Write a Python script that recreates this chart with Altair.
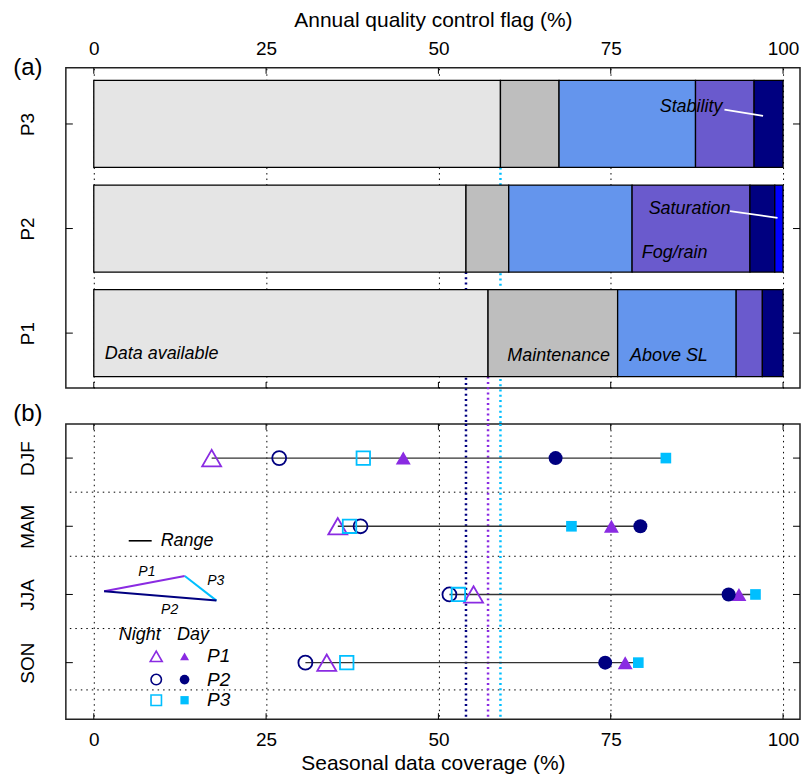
import altair as alt
import pandas as pd

# ---------------- data ----------------
sites = ["P1", "P2", "P3"]
site_pos = [1, 2, 3]
site_colors = ["#8A2BE2", "#000080", "#00BFFF"]
site_avail = [57.2, 54.0, 59.0]

flag_names = ["Data available", "Maintenance", "Above SL", "Fog/rain", "Stability", "Saturation"]
flag_colors = ["#E5E5E5", "#BEBEBE", "#6495ED", "#6A5ACD", "#000080", "#0000FF"]
flags_p1 = [57.2, 18.8, 17.2, 3.8, 3.0, 0.0]
flags_p2 = [54.0, 6.2, 17.9, 17.1, 3.6, 1.2]
flags_p3 = [59.0, 8.5, 19.8, 8.5, 4.2, 0.0]

label_text = ["Data available", "Maintenance", "Above SL", "Fog/rain", "Saturation", "Stability"]
label_x = [1.6, 60.0, 77.8, 79.5, 80.5, 82.1]
label_y = [0.80, 0.78, 0.78, 1.77, 2.19, 3.16]

leader_x = [92.3, 91.5]
leader_x2 = [99.2, 97.1]
leader_y = [2.167, 3.137]
leader_y2 = [2.103, 3.077]

seasons = ["DJF", "MAM", "JJA", "SON"]
season_pos = [4, 3, 2, 1]
night_p1 = [17.1, 35.4, 55.1, 33.8]
night_p2 = [26.9, 38.7, 51.6, 30.7]
night_p3 = [39.1, 37.1, 52.9, 36.7]
day_p1 = [44.9, 75.1, 93.6, 77.1]
day_p2 = [67.0, 79.3, 92.1, 74.2]
day_p3 = [83.0, 69.3, 96.0, 79.0]

x_ticks = [0, 25, 50, 75, 100]
season_sep = [3.5, 2.56, 1.5, 0.6]

# legend (panel b) items
range_leg_x, range_leg_x2, range_leg_y, range_txt_x = 5.07, 8.4, 2.787, 9.7
tri_site = ["P1", "P3", "P2"]
tri_x = [1.5, 13.2, 1.5]
tri_x2 = [13.2, 17.8, 17.8]
tri_y = [2.047, 2.271, 2.047]
tri_y2 = [2.271, 1.910, 1.910]
tri_lab_x = [7.7, 17.7, 11.0]
tri_lab_y = [2.324, 2.203, 1.775]
leg_head = ["Night", "Day"]
leg_head_x = [6.66, 14.4]
leg_head_y = [1.399, 1.399]
leg_row_y = [1.092, 0.752, 0.449]
leg_night_x, leg_day_x, leg_text_x = 9.06, 13.17, 16.44

shapes = ["triangle-up", "circle", "square"]
night_sizes = [361, 196, 182]
day_sizes = [225, 196, 114]
leg_night_sizes = [144, 110, 110]
leg_day_sizes = [81, 94, 69]

# ---------------- layout constants ----------------
FONT = "Liberation Sans"
W = 736
HA = 321
HB = 296
GAP = 36
xscale = alt.Scale(domain=[-4.052, 102.46], nice=False, zero=False)
ya_scale = alt.Scale(domain=[0.475, 3.537], nice=False, zero=False)
yb_scale = alt.Scale(domain=[0.171, 4.501], nice=False, zero=False)
HALF = 0.416


def label_expr(pos, names):
    parts = " : ".join(f"datum.value == {p} ? '{n}'" for p, n in zip(pos, names))
    return parts + " : ''"


common_axis = dict(labelFont=FONT, titleFont=FONT, labelColor="black", titleColor="black",
                   titleFontWeight="normal", domain=False, ticks=False, tickSize=0)

AXA = alt.Axis(orient="top", values=x_ticks, title="Annual quality control flag (%)",
               labelFontSize=19, titleFontSize=21, labelPadding=9, titlePadding=9,
               grid=True, gridDash=[1.5, 4], gridColor="black", gridWidth=1, **common_axis)
AYA = alt.Axis(values=site_pos, labelExpr=label_expr(site_pos, sites), labelAngle=270,
               labelAlign="center", labelBaseline="bottom", labelFontSize=19, labelPadding=28,
               title=None, grid=False, **common_axis)
AXB = alt.Axis(orient="bottom", values=x_ticks, title="Seasonal data coverage (%)",
               labelFontSize=19, titleFontSize=21, labelPadding=11, titlePadding=3,
               grid=True, gridDash=[1.5, 4], gridColor="black", gridWidth=1, **common_axis)
AYB = alt.Axis(values=season_pos, labelExpr=label_expr(season_pos, seasons), labelAngle=270,
               labelAlign="center", labelBaseline="bottom", labelFontSize=19, labelPadding=28,
               title=None, grid=False, **common_axis)


def XA(f):
    return alt.X(f, scale=xscale, axis=AXA)


def YA(f):
    return alt.Y(f, scale=ya_scale, axis=AYA)


def XB(f):
    return alt.X(f, scale=xscale, axis=AXB)


def YB(f):
    return alt.Y(f, scale=yb_scale, axis=AYB)


site_color_scale = alt.Scale(domain=sites, range=site_colors)

# ---------------- panel (a) ----------------
rows = []
for s, p, vals in zip(sites, site_pos, [flags_p1, flags_p2, flags_p3]):
    cum = 0.0
    for name, v in zip(flag_names, vals):
        if v > 0:
            rows.append(dict(site=s, pos=p, flag=name, start=cum, end=cum + v))
        cum += v
df_bars = pd.DataFrame(rows)
df_sites = pd.DataFrame(dict(site=sites, pos=site_pos, avail=site_avail))
df_xt = pd.DataFrame(dict(v=x_ticks))

a_vlines = alt.Chart(df_sites).mark_rule(strokeWidth=2.5, strokeDash=[2, 3.3]).transform_calculate(
    lo=f"datum.pos - {HALF}").encode(
    x=XA("avail:Q"), y=YA("lo:Q"), y2=alt.value(HA + GAP),
    color=alt.Color("site:N", scale=site_color_scale, legend=None))

a_bars = alt.Chart(df_bars).mark_rect(stroke="black", strokeWidth=1.3).transform_calculate(
    lo=f"datum.pos - {HALF}", hi=f"datum.pos + {HALF}").encode(
    x=XA("start:Q"), x2="end:Q", y=YA("lo:Q"), y2="hi:Q",
    fill=alt.Fill("flag:N", scale=alt.Scale(domain=flag_names, range=flag_colors), legend=None))

df_lead = pd.DataFrame(dict(x=leader_x, x2=leader_x2, y=leader_y, y2=leader_y2))
a_lead = alt.Chart(df_lead).mark_rule(color="white", strokeWidth=1.8).encode(
    x=XA("x:Q"), x2="x2:Q", y=YA("y:Q"), y2="y2:Q")

df_lab = pd.DataFrame(dict(t=label_text, x=label_x, y=label_y))
a_text = alt.Chart(df_lab).mark_text(align="left", baseline="middle", font=FONT, fontSize=18,
                                     fontStyle="italic", color="black").encode(
    x=XA("x:Q"), y=YA("y:Q"), text="t:N")

a_tick_top = alt.Chart(df_xt).mark_rule(color="black", strokeWidth=1).encode(
    x=XA("v:Q"), y=alt.value(0), y2=alt.value(6))
a_tick_bot = alt.Chart(df_xt).mark_rule(color="black", strokeWidth=1).encode(
    x=XA("v:Q"), y=alt.value(HA - 6), y2=alt.value(HA))
df_ya = pd.DataFrame(dict(v=site_pos))
a_tick_l = alt.Chart(df_ya).mark_rule(color="black", strokeWidth=1).encode(
    y=YA("v:Q"), x=alt.value(0), x2=alt.value(7))
a_tick_r = alt.Chart(df_ya).mark_rule(color="black", strokeWidth=1).encode(
    y=YA("v:Q"), x=alt.value(W - 7), x2=alt.value(W))

a_lab_a = alt.Chart(df_xt.head(1)).mark_text(text="(a)", font=FONT, fontSize=24, align="center",
                                             baseline="middle", color="black").encode(
    x=alt.value(-38), y=alt.value(0))
a_lab_b = alt.Chart(df_xt.head(1)).mark_text(text="(b)", font=FONT, fontSize=24, align="center",
                                             baseline="middle", color="black").encode(
    x=alt.value(-38), y=alt.value(HA + 26))

panel_a = alt.layer(a_vlines, a_bars, a_lead, a_text, a_tick_top, a_tick_bot, a_tick_l, a_tick_r,
                    a_lab_a, a_lab_b).properties(width=W, height=HA)

# ---------------- panel (b) ----------------
b_rows = []
for s, nv, dv in zip(sites, [night_p1, night_p2, night_p3], [day_p1, day_p2, day_p3]):
    for se, p, n, d in zip(seasons, season_pos, nv, dv):
        b_rows.append(dict(site=s, season=se, pos=p, night=n, day=d))
df_pts = pd.DataFrame(b_rows)
df_range = df_pts.groupby(["season", "pos"]).agg(
    lo_n=("night", "min"), lo_d=("day", "min"), hi_n=("night", "max"), hi_d=("day", "max")).reset_index()
df_range["lo"] = df_range[["lo_n", "lo_d"]].min(axis=1)
df_range["hi"] = df_range[["hi_n", "hi_d"]].max(axis=1)

df_sep = pd.DataFrame(dict(v=season_sep))
b_sep = alt.Chart(df_sep).mark_rule(color="black", strokeWidth=1, strokeDash=[1.5, 4]).encode(
    y=YB("v:Q"), x=alt.value(4), x2=alt.value(W - 4))

b_vlines = alt.Chart(df_sites).mark_rule(strokeWidth=2.5, strokeDash=[2, 3.3]).encode(
    x=XB("avail:Q"), y=alt.value(0), y2=alt.value(HB),
    color=alt.Color("site:N", scale=site_color_scale, legend=None))

b_range = alt.Chart(df_range).mark_rule(color="#333333", strokeWidth=1.4).encode(
    x=XB("lo:Q"), x2="hi:Q", y=YB("pos:Q"))

point_layers = []
for s, col, shp, ns, ds in zip(sites, site_colors, shapes, night_sizes, day_sizes):
    sub = df_pts[df_pts.site == s]
    point_layers.append(alt.Chart(sub).mark_point(filled=False, strokeWidth=1.8, opacity=1).encode(
        x=XB("night:Q"), y=YB("pos:Q"),
        shape=alt.value(shp), color=alt.value(col), size=alt.value(ns)))
    point_layers.append(alt.Chart(sub).mark_point(filled=True, opacity=1).encode(
        x=XB("day:Q"), y=YB("pos:Q"),
        shape=alt.value(shp), color=alt.value(col), size=alt.value(ds)))

# legend parts
df_rleg = pd.DataFrame(dict(x=[range_leg_x], x2=[range_leg_x2], y=[range_leg_y], tx=[range_txt_x], t=["Range"]))
b_rleg_line = alt.Chart(df_rleg).mark_rule(color="black", strokeWidth=1.6).encode(
    x=XB("x:Q"), x2="x2:Q", y=YB("y:Q"))
b_rleg_text = alt.Chart(df_rleg).mark_text(align="left", baseline="middle", font=FONT, fontSize=18,
                                           fontStyle="italic", color="black").encode(
    x=XB("tx:Q"), y=YB("y:Q"), text="t:N")

df_tri = pd.DataFrame(dict(site=tri_site, x=tri_x, x2=tri_x2, y=tri_y, y2=tri_y2,
                           lx=tri_lab_x, ly=tri_lab_y))
b_tri = alt.Chart(df_tri).mark_rule(strokeWidth=2).encode(
    x=XB("x:Q"), x2="x2:Q", y=YB("y:Q"), y2="y2:Q",
    color=alt.Color("site:N", scale=site_color_scale, legend=None))
b_tri_lab = alt.Chart(df_tri).mark_text(align="center", baseline="middle", font=FONT, fontSize=14,
                                        fontStyle="italic", color="black").encode(
    x=XB("lx:Q"), y=YB("ly:Q"), text="site:N")

df_head = pd.DataFrame(dict(t=leg_head, x=leg_head_x, y=leg_head_y))
b_head = alt.Chart(df_head).mark_text(align="center", baseline="middle", font=FONT, fontSize=18,
                                      fontStyle="italic", color="black").encode(
    x=XB("x:Q"), y=YB("y:Q"), text="t:N")

leg_layers = []
for s, col, shp, ry, ns, ds in zip(sites, site_colors, shapes, leg_row_y, leg_night_sizes, leg_day_sizes):
    d1 = pd.DataFrame(dict(site=[s], y=[ry], xn=[leg_night_x], xd=[leg_day_x], xt=[leg_text_x]))
    leg_layers.append(alt.Chart(d1).mark_point(filled=False, strokeWidth=1.6, opacity=1).encode(
        x=XB("xn:Q"), y=YB("y:Q"),
        shape=alt.value(shp), color=alt.value(col), size=alt.value(ns)))
    leg_layers.append(alt.Chart(d1).mark_point(filled=True, opacity=1).encode(
        x=XB("xd:Q"), y=YB("y:Q"),
        shape=alt.value(shp), color=alt.value(col), size=alt.value(ds)))
    leg_layers.append(alt.Chart(d1).mark_text(align="left", baseline="middle", font=FONT, fontSize=19,
                                              fontStyle="italic", color="black").encode(
        x=XB("xt:Q"), y=YB("y:Q"), text="site:N"))

df_yb = pd.DataFrame(dict(v=season_pos))
b_tick_top = alt.Chart(df_xt).mark_rule(color="black", strokeWidth=1).encode(
    x=XB("v:Q"), y=alt.value(0), y2=alt.value(6))
b_tick_bot = alt.Chart(df_xt).mark_rule(color="black", strokeWidth=1).encode(
    x=XB("v:Q"), y=alt.value(HB - 6), y2=alt.value(HB))
b_tick_l = alt.Chart(df_yb).mark_rule(color="black", strokeWidth=1).encode(
    y=YB("v:Q"), x=alt.value(0), x2=alt.value(7))
b_tick_r = alt.Chart(df_yb).mark_rule(color="black", strokeWidth=1).encode(
    y=YB("v:Q"), x=alt.value(W - 7), x2=alt.value(W))

panel_b = alt.layer(b_sep, b_vlines, b_range, *point_layers, b_rleg_line, b_rleg_text, b_tri, b_tri_lab,
                    b_head, *leg_layers, b_tick_top, b_tick_bot, b_tick_l, b_tick_r
                    ).properties(width=W, height=HB)

chart = alt.vconcat(panel_a, panel_b, spacing=GAP, bounds="flush").properties(
    padding={"left": 4, "top": 0, "right": 0, "bottom": 0}, background="white"
).configure_view(stroke="#222222", strokeWidth=1.5)

chart.save("out.html", embed_options={"renderer": "svg", "actions": False})
